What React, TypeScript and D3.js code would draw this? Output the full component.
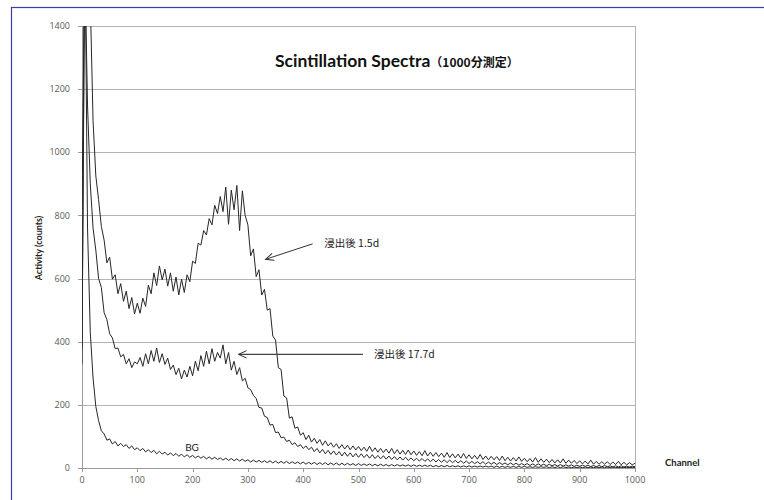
import React from 'react';
import * as d3 from 'd3';

// Channel numbers sampled every 5 channels, 0..1000
const channels: number[] = d3.range(0, 1001, 5);

// Counts after 1.5 days of leaching
const leach15: number[] = [
  820, 1650, 1900, 1480, 1100, 925, 850, 765, 722, 650,
  668, 598, 612, 552, 584, 528, 560, 505, 540, 488,
  522, 490, 538, 512, 579, 552, 618, 578, 640, 596,
  630, 576, 618, 560, 605, 548, 598, 556, 612, 590,
  655, 648, 712, 706, 752, 738, 790, 770, 832, 806,
  860, 812, 890, 772, 880, 818, 895, 752, 878, 800,
  770, 672, 694, 606, 628, 548, 566, 500, 505, 418,
  405, 318, 312, 228, 222, 158, 162, 126, 130, 104,
  112, 90, 104, 82, 94, 78, 90, 72, 86, 70,
  80, 66, 77, 62, 74, 60, 72, 58, 70, 57,
  68, 55, 66, 53, 69, 52, 64, 50, 62, 49,
  60, 47, 62, 45, 58, 44, 56, 43, 57, 42,
  54, 40, 52, 39, 55, 38, 50, 37, 49, 36,
  47, 34, 49, 33, 45, 32, 44, 31, 46, 30,
  42, 29, 40, 28, 43, 27, 38, 26, 37, 26,
  36, 24, 38, 23, 34, 22, 33, 22, 35, 21,
  31, 20, 30, 19, 33, 18, 29, 18, 28, 17,
  27, 16, 26, 16, 29, 15, 25, 15, 24, 14,
  23, 13, 22, 13, 25, 12, 21, 12, 20, 12,
  20, 11, 19, 11, 21, 10, 18, 10, 17, 10,
  15,
];

// Counts after 17.7 days of leaching
const leach177: number[] = [
  380, 1600, 1150, 900, 760, 690, 600, 572, 492, 470,
  425, 412, 378, 380, 352, 360, 330, 346, 318, 336,
  330, 350, 322, 362, 330, 372, 338, 380, 334, 362,
  328, 348, 312, 326, 296, 316, 282, 310, 288, 322,
  292, 338, 308, 356, 322, 370, 330, 378, 338, 366,
  348, 390, 330, 366, 310, 338, 296, 318, 276, 284,
  254, 248, 230, 220, 192, 190, 164, 160, 136, 138,
  112, 114, 96, 98, 84, 88, 74, 80, 68, 74,
  62, 70, 58, 66, 52, 62, 48, 59, 45, 56,
  43, 54, 41, 52, 38, 50, 37, 48, 35, 46,
  34, 45, 33, 43, 31, 42, 30, 40, 29, 39,
  28, 38, 27, 36, 26, 35, 25, 34, 24, 32,
  23, 31, 22, 30, 21, 29, 20, 28, 19, 27,
  18, 26, 17, 25, 17, 24, 16, 23, 15, 22,
  14, 21, 14, 20, 13, 20, 12, 19, 12, 18,
  11, 17, 11, 16, 10, 16, 10, 15, 9, 14,
  9, 14, 8, 13, 8, 13, 8, 12, 7, 12,
  7, 11, 6, 11, 6, 10, 6, 10, 5, 9,
  5, 9, 5, 9, 4, 8, 4, 8, 4, 8,
  4, 7, 3, 7, 3, 7, 3, 6, 3, 6,
  4,
];

// Background counts
const background: number[] = [
  330, 1750, 760, 430, 285, 195, 150, 118, 108, 88,
  92, 76, 84, 70, 78, 68, 74, 62, 70, 58,
  64, 55, 62, 51, 58, 49, 56, 45, 53, 44,
  50, 41, 48, 39, 46, 37, 44, 35, 42, 34,
  40, 32, 38, 31, 37, 29, 35, 28, 34, 27,
  32, 25, 31, 24, 30, 23, 29, 22, 28, 21,
  26, 19, 25, 19, 24, 18, 23, 17, 23, 16,
  22, 15, 21, 15, 21, 14, 20, 14, 19, 13,
  19, 12, 18, 12, 18, 11, 17, 11, 17, 10,
  16, 10, 16, 9, 15, 9, 15, 9, 14, 8,
  14, 8, 13, 8, 13, 7, 12, 7, 12, 7,
  11, 6, 11, 6, 11, 6, 10, 6, 10, 5,
  10, 5, 9, 5, 9, 5, 9, 4, 8, 4,
  8, 4, 8, 4, 7, 4, 7, 3, 7, 3,
  7, 3, 6, 3, 6, 3, 6, 3, 6, 2,
  6, 2, 5, 2, 5, 2, 5, 2, 5, 2,
  5, 2, 4, 2, 4, 2, 4, 2, 4, 1,
  4, 1, 4, 1, 4, 1, 3, 1, 3, 1,
  3, 1, 3, 1, 3, 1, 3, 1, 3, 1,
  3, 1, 3, 1, 2, 1, 2, 1, 2, 1,
  2,
];

const yTicks: number[] = [0, 200, 400, 600, 800, 1000, 1200, 1400];
const xTicks: number[] = [0, 100, 200, 300, 400, 500, 600, 700, 800, 900, 1000];

const seriesList = [leach15, leach177, background];

const WIDTH = 764;
const HEIGHT = 500;
const PLOT = { left: 82, right: 635, top: 26, bottom: 468 };

const tickFont = "'Open Sans', 'DejaVu Sans', sans-serif";
const labelFont = "Lato, 'Open Sans', sans-serif";
const cjkFont = "'Noto Sans CJK JP', 'Noto Sans', sans-serif";

export default function App() {
  const x = d3.scaleLinear().domain([0, 1000]).range([PLOT.left, PLOT.right]);
  const y = d3.scaleLinear().domain([0, 1400]).range([PLOT.bottom, PLOT.top]);

  const line = d3
    .line<number>()
    .x((_, i) => x(channels[i]))
    .y((d) => y(d));

  // annotation anchors in data coordinates
  const a1Tail = [x(417), y(710)];
  const a1Tip = [x(332), y(661)];
  const a2Tail = [x(508), y(360)];
  const a2Tip = [x(283), y(360)];

  return (
    <svg
      width={WIDTH}
      height={HEIGHT}
      style={{ position: 'absolute', left: 0, top: 0, background: '#fff' }}
    >
      <defs>
        <clipPath id="plot-clip">
          <rect
            x={PLOT.left}
            y={PLOT.top}
            width={PLOT.right - PLOT.left}
            height={PLOT.bottom - PLOT.top}
          />
        </clipPath>
        <marker
          id="open-arrow"
          viewBox="-10 -6 12 12"
          markerWidth={12}
          markerHeight={12}
          markerUnits="userSpaceOnUse"
          orient="auto"
          refX={0}
          refY={0}
        >
          <path d="M-8,-3.6 L0,0 L-8,3.6" fill="none" stroke="#333" strokeWidth={1} />
        </marker>
      </defs>

      {/* outer frame */}
      <rect x={11.5} y={7.5} width={820} height={620} fill="none" stroke="#3d3daa" strokeWidth={1.2} />

      {/* horizontal gridlines */}
      {yTicks.filter((t) => t > 0).map((t) => (
        <line
          key={'g' + t}
          x1={PLOT.left}
          x2={PLOT.right}
          y1={Math.round(y(t)) + 0.5}
          y2={Math.round(y(t)) + 0.5}
          stroke="#b4b4b4"
          strokeWidth={1}
        />
      ))}
      {/* right border of plot area */}
      <line x1={PLOT.right + 0.5} x2={PLOT.right + 0.5} y1={PLOT.top} y2={PLOT.bottom} stroke="#b4b4b4" />

      {/* axes */}
      <line x1={PLOT.left + 0.5} x2={PLOT.left + 0.5} y1={PLOT.top} y2={PLOT.bottom} stroke="#9a9a9a" />
      <line x1={PLOT.left} x2={PLOT.right} y1={PLOT.bottom + 0.5} y2={PLOT.bottom + 0.5} stroke="#9a9a9a" />
      {yTicks.map((t) => (
        <g key={'y' + t}>
          <line
            x1={PLOT.left - 4}
            x2={PLOT.left}
            y1={Math.round(y(t)) + 0.5}
            y2={Math.round(y(t)) + 0.5}
            stroke="#9a9a9a"
          />
          <text
            x={70}
            y={y(t)}
            dy="0.35em"
            textAnchor="end"
            fontFamily={tickFont}
            fontSize={9}
            fill="#595959"
          >
            {t}
          </text>
        </g>
      ))}
      {xTicks.map((t) => (
        <g key={'x' + t}>
          <line
            x1={Math.round(x(t)) + 0.5}
            x2={Math.round(x(t)) + 0.5}
            y1={PLOT.bottom}
            y2={PLOT.bottom + 4}
            stroke="#9a9a9a"
          />
          <text
            x={x(t)}
            y={483}
            textAnchor="middle"
            fontFamily={tickFont}
            fontSize={9}
            fill="#595959"
          >
            {t}
          </text>
        </g>
      ))}

      {/* spectra */}
      <g clipPath="url(#plot-clip)">
        {seriesList.map((s, i) => (
          <path key={i} d={line(s) || ''} fill="none" stroke="#262626" strokeWidth={1} strokeLinejoin="round" />
        ))}
      </g>

      {/* title */}
      <text x={275} y={67} fontFamily={labelFont} fontWeight="bold" fontSize={17.5} fill="#111">
        Scintillation Spectra
        <tspan fontFamily={cjkFont} fontSize={12}>（1000分測定）</tspan>
      </text>

      {/* axis titles */}
      <text
        transform={`translate(42,248) rotate(-90)`}
        textAnchor="middle"
        fontFamily={labelFont}
        fontWeight="bold"
        fontSize={9}
        fill="#222"
      >
        Activity (counts)
      </text>
      <text x={665} y={466} fontFamily={labelFont} fontWeight="bold" fontSize={9.5} fill="#222">
        Channel
      </text>

      {/* annotations */}
      <line
        x1={a1Tail[0]}
        y1={a1Tail[1]}
        x2={a1Tip[0]}
        y2={a1Tip[1]}
        stroke="#333"
        strokeWidth={1}
        markerEnd="url(#open-arrow)"
      />
      <text x={x(438)} y={y(713)} dy="0.35em" fontFamily={cjkFont} fontSize={10.5} fill="#222">
        浸出後 1.5d
      </text>
      <line
        x1={a2Tail[0]}
        y1={a2Tail[1]}
        x2={a2Tip[0]}
        y2={a2Tip[1]}
        stroke="#444"
        strokeWidth={1.2}
        markerEnd="url(#open-arrow)"
      />
      <text x={x(528)} y={y(360)} dy="0.35em" fontFamily={cjkFont} fontSize={10.5} fill="#222">
        浸出後 17.7d
      </text>
      <text x={x(199)} y={y(66)} dy="0.35em" textAnchor="middle" fontFamily={labelFont} fontSize={10} fill="#222">
        BG
      </text>
    </svg>
  );
}
